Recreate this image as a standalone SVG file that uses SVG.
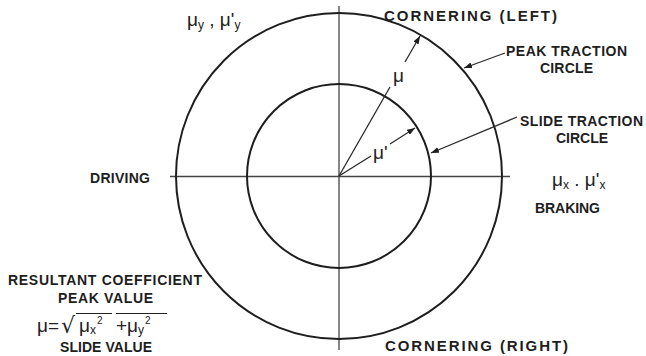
<svg xmlns="http://www.w3.org/2000/svg" width="646" height="356" viewBox="0 0 646 356">
<style>
.lbl{font-family:"Liberation Sans",Arial,sans-serif;font-weight:bold;font-size:14px;fill:#1e1e1e}
.big{font-size:15px}
.mu{font-family:"Liberation Sans",Arial,sans-serif;font-size:19px;fill:#222}
.sub{font-size:12px}
.circ{fill:none;stroke:#1e1e1e;stroke-width:2}
.axis{stroke:#444;stroke-width:1.3;fill:none}
.ptr{stroke:#2a2a2a;stroke-width:1.3;fill:none}
</style>
<defs>
<marker id="ah" viewBox="0 0 8 6" refX="8" refY="3" markerWidth="8" markerHeight="6" markerUnits="userSpaceOnUse" orient="auto">
<path d="M0,0 L8,3 L0,6 z" fill="#1e1e1e"/>
</marker>
</defs>
<rect width="646" height="356" fill="#ffffff"/>
<g id="axes">
<line class="axis" x1="170" y1="176.5" x2="510" y2="176.5"/>
<line class="axis" x1="339" y1="6" x2="339" y2="350"/>
</g>
<g id="peak-circle"><circle class="circ" cx="339" cy="176" r="163"/></g>
<g id="slide-circle"><circle class="circ" cx="339" cy="176" r="92"/></g>
<g id="connectors">
<line class="ptr" x1="339" y1="176" x2="390" y2="87"/>
<line class="ptr" x1="405" y1="62" x2="420" y2="36" marker-end="url(#ah)"/>
<line class="ptr" x1="339" y1="176" x2="371" y2="156"/>
<line class="ptr" x1="390" y1="144" x2="415" y2="128" marker-end="url(#ah)"/>
<line class="ptr" x1="505" y1="53" x2="464" y2="68" marker-end="url(#ah)"/>
<line class="ptr" x1="517" y1="117" x2="431" y2="153" marker-end="url(#ah)"/>
</g>
<g id="labels">
<text class="lbl big" x="384" y="21" textLength="173" lengthAdjust="spacing">CORNERING (LEFT)</text>
<text class="lbl" x="506" y="56" textLength="121" lengthAdjust="spacing">PEAK TRACTION</text>
<text class="lbl" x="540" y="73" textLength="53" lengthAdjust="spacing">CIRCLE</text>
<text class="lbl" x="520" y="126" textLength="123" lengthAdjust="spacing">SLIDE TRACTION</text>
<text class="lbl" x="556" y="143" textLength="52" lengthAdjust="spacing">CIRCLE</text>
<text class="lbl" x="535" y="213" textLength="65" lengthAdjust="spacing">BRAKING</text>
<text class="lbl" x="90" y="183" textLength="60" lengthAdjust="spacing">DRIVING</text>
<text class="lbl big" x="385" y="351" textLength="183" lengthAdjust="spacing">CORNERING (RIGHT)</text>
<text class="lbl" x="8" y="285" textLength="194" lengthAdjust="spacing">RESULTANT COEFFICIENT</text>
<text class="lbl" x="58" y="303" textLength="95" lengthAdjust="spacing">PEAK VALUE</text>
<text class="lbl" x="60" y="352" font-size="13" textLength="92" lengthAdjust="spacing">SLIDE VALUE</text>
<text class="mu" x="187" y="26">μ<tspan class="sub" dy="3">y</tspan><tspan dy="-3"> , μ'</tspan><tspan class="sub" dy="3">y</tspan></text>
<text class="mu" x="552" y="186">μ<tspan class="sub" dy="3">x</tspan><tspan dy="-3">  .  μ'</tspan><tspan class="sub" dy="3">x</tspan></text>
<text class="mu" x="393" y="82">μ</text>
<text class="mu" x="373" y="159" font-size="17">μ'</text>
<text class="mu" x="37" y="332" font-size="20">μ=</text>
<text x="61" y="333" font-family="DejaVu Sans, sans-serif" font-size="22" fill="#222">√</text>
<line x1="76" y1="313.5" x2="112" y2="313.5" stroke="#222" stroke-width="1.2"/>
<line x1="116" y1="313.5" x2="167" y2="313.5" stroke="#222" stroke-width="1.2"/>
<text class="mu" x="79" y="332" font-size="20">μ<tspan class="sub" dy="2">x</tspan><tspan font-size="10" dx="1" dy="-10">2</tspan></text>
<text class="mu" x="116" y="332" font-size="20">+μ<tspan class="sub" dy="2">y</tspan><tspan font-size="10" dx="1" dy="-10">2</tspan></text>
</g>
</svg>
